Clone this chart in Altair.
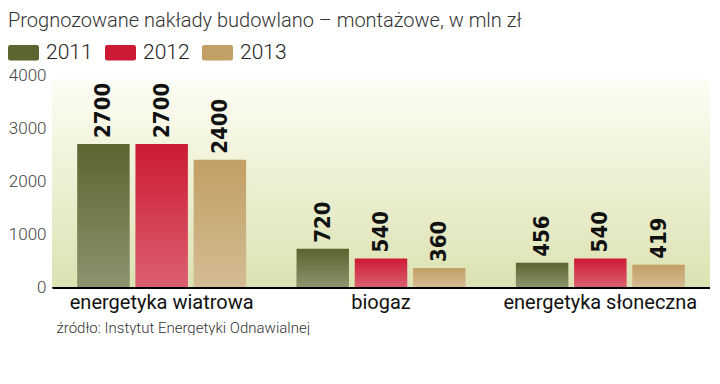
import altair as alt
import pandas as pd

categories = ["energetyka wiatrowa", "biogaz", "energetyka słoneczna"]
years = ["2011", "2012", "2013"]
v2011 = [2700, 720, 456]
v2012 = [2700, 540, 540]
v2013 = [2400, 360, 419]
colors = ["#5b652f", "#cc1a34", "#c29f65"]
y_ticks = [0, 1000, 2000, 3000, 4000]

title_text = "Prognozowane nakłady budowlano – montażowe, w mln zł"
source_text = "źródło: Instytut Energetyki Odnawialnej"

rows = []
for year, vals in zip(years, [v2011, v2012, v2013]):
    for c, v in zip(categories, vals):
        rows.append({"cat": c, "year": year, "value": v})
df = pd.DataFrame(rows)

FONT = "Roboto"

x_enc = alt.X(
    "cat:N",
    sort=categories,
    scale=alt.Scale(paddingInner=0.23, paddingOuter=0.115),
    axis=alt.Axis(
        title=source_text,
        labelAngle=0,
        labelFontSize=20,
        labelColor="#111111",
        labelFont=FONT,
        labelPadding=5,
        labelLimit=0,
        ticks=False,
        domain=True,
        domainColor="#000000",
        domainWidth=3,
        titleFont=FONT,
        titleFontSize=15,
        titleFontWeight=300,
        titleColor="#333333",
        titleAnchor="start",
        titleAlign="left",
        titleX=4,
        titlePadding=8,
    ),
)
xoff_enc = alt.XOffset("year:N", sort=years, scale=alt.Scale(paddingInner=0.1, paddingOuter=0))
y_enc = alt.Y(
    "value:Q",
    scale=alt.Scale(domain=[0, 4000]),
    axis=alt.Axis(
        values=y_ticks,
        format="d",
        title=None,
        grid=True,
        gridDash=[4, 3],
        gridColor="#000000",
        gridWidth=1,
        domain=False,
        ticks=False,
        labelFontSize=17,
        labelFont=FONT,
        labelFontWeight=300,
        labelColor="#444444",
        labelPadding=6,
    ),
)

bg = alt.Chart(pd.DataFrame({"a": [0]})).mark_rect(
    fill={
        "gradient": "linear",
        "x1": 0, "y1": 0, "x2": 0, "y2": 1,
        "stops": [
            {"offset": 0, "color": "#ffffff"},
            {"offset": 0.06, "color": "#fcfcf1"},
            {"offset": 1, "color": "#dce2b2"},
        ],
    }
).encode(x=alt.value(0), x2=alt.value("width"), y=alt.value(0), y2=alt.value("height"))

shape = "M-0.85,-0.5 L0.85,-0.5 Q1,-0.5 1,-0.35 L1,0.35 Q1,0.5 0.85,0.5 L-0.85,0.5 Q-1,0.5 -1,0.35 L-1,-0.35 Q-1,-0.5 -0.85,-0.5 Z"

bars = alt.Chart(df).mark_bar().encode(
    x=x_enc,
    xOffset=xoff_enc,
    y=y_enc,
    color=alt.Color(
        "year:N",
        sort=years,
        scale=alt.Scale(domain=years, range=colors),
        legend=alt.Legend(
            title=None,
            orient="none",
            legendX=-44,
            legendY=-38,
            direction="horizontal",
            symbolType=shape,
            symbolSize=961,
            symbolStrokeWidth=0,
            labelFontSize=21,
            labelFont=FONT,
            labelFontWeight=300,
            labelColor="#222222",
            labelOffset=7,
            columnPadding=12,
        ),
    ),
)

shade = alt.Chart(df).mark_bar(
    color={
        "gradient": "linear",
        "x1": 0, "y1": 0, "x2": 0, "y2": 1,
        "stops": [
            {"offset": 0, "color": "rgba(255,255,255,0)"},
            {"offset": 1, "color": "rgba(255,255,255,0.3)"},
        ],
    }
).encode(x=alt.X("cat:N", sort=categories), xOffset=alt.XOffset("year:N", sort=years), y="value:Q")

labels = alt.Chart(df).mark_text(
    angle=270,
    align="left",
    baseline="middle",
    dx=6,
    font="DejaVu Sans Condensed",
    fontWeight="bold",
    fontSize=22,
    color="#111111",
).encode(
    x=alt.X("cat:N", sort=categories),
    xOffset=alt.XOffset("year:N", sort=years),
    y="value:Q",
    text="value:Q",
)

chart = alt.layer(bg, bars, shade, labels).properties(
    width=658,
    height=212,
    padding={"left": 0, "top": 3, "right": 0, "bottom": 0},
    title=alt.TitleParams(
        title_text,
        anchor="start",
        frame="bounds",
        font=FONT,
        fontSize=20,
        fontWeight=300,
        color="#333333",
        offset=6,
    ),
).configure_view(stroke=None)

chart.save("out.html", embed_options={"renderer": "svg", "actions": False})
